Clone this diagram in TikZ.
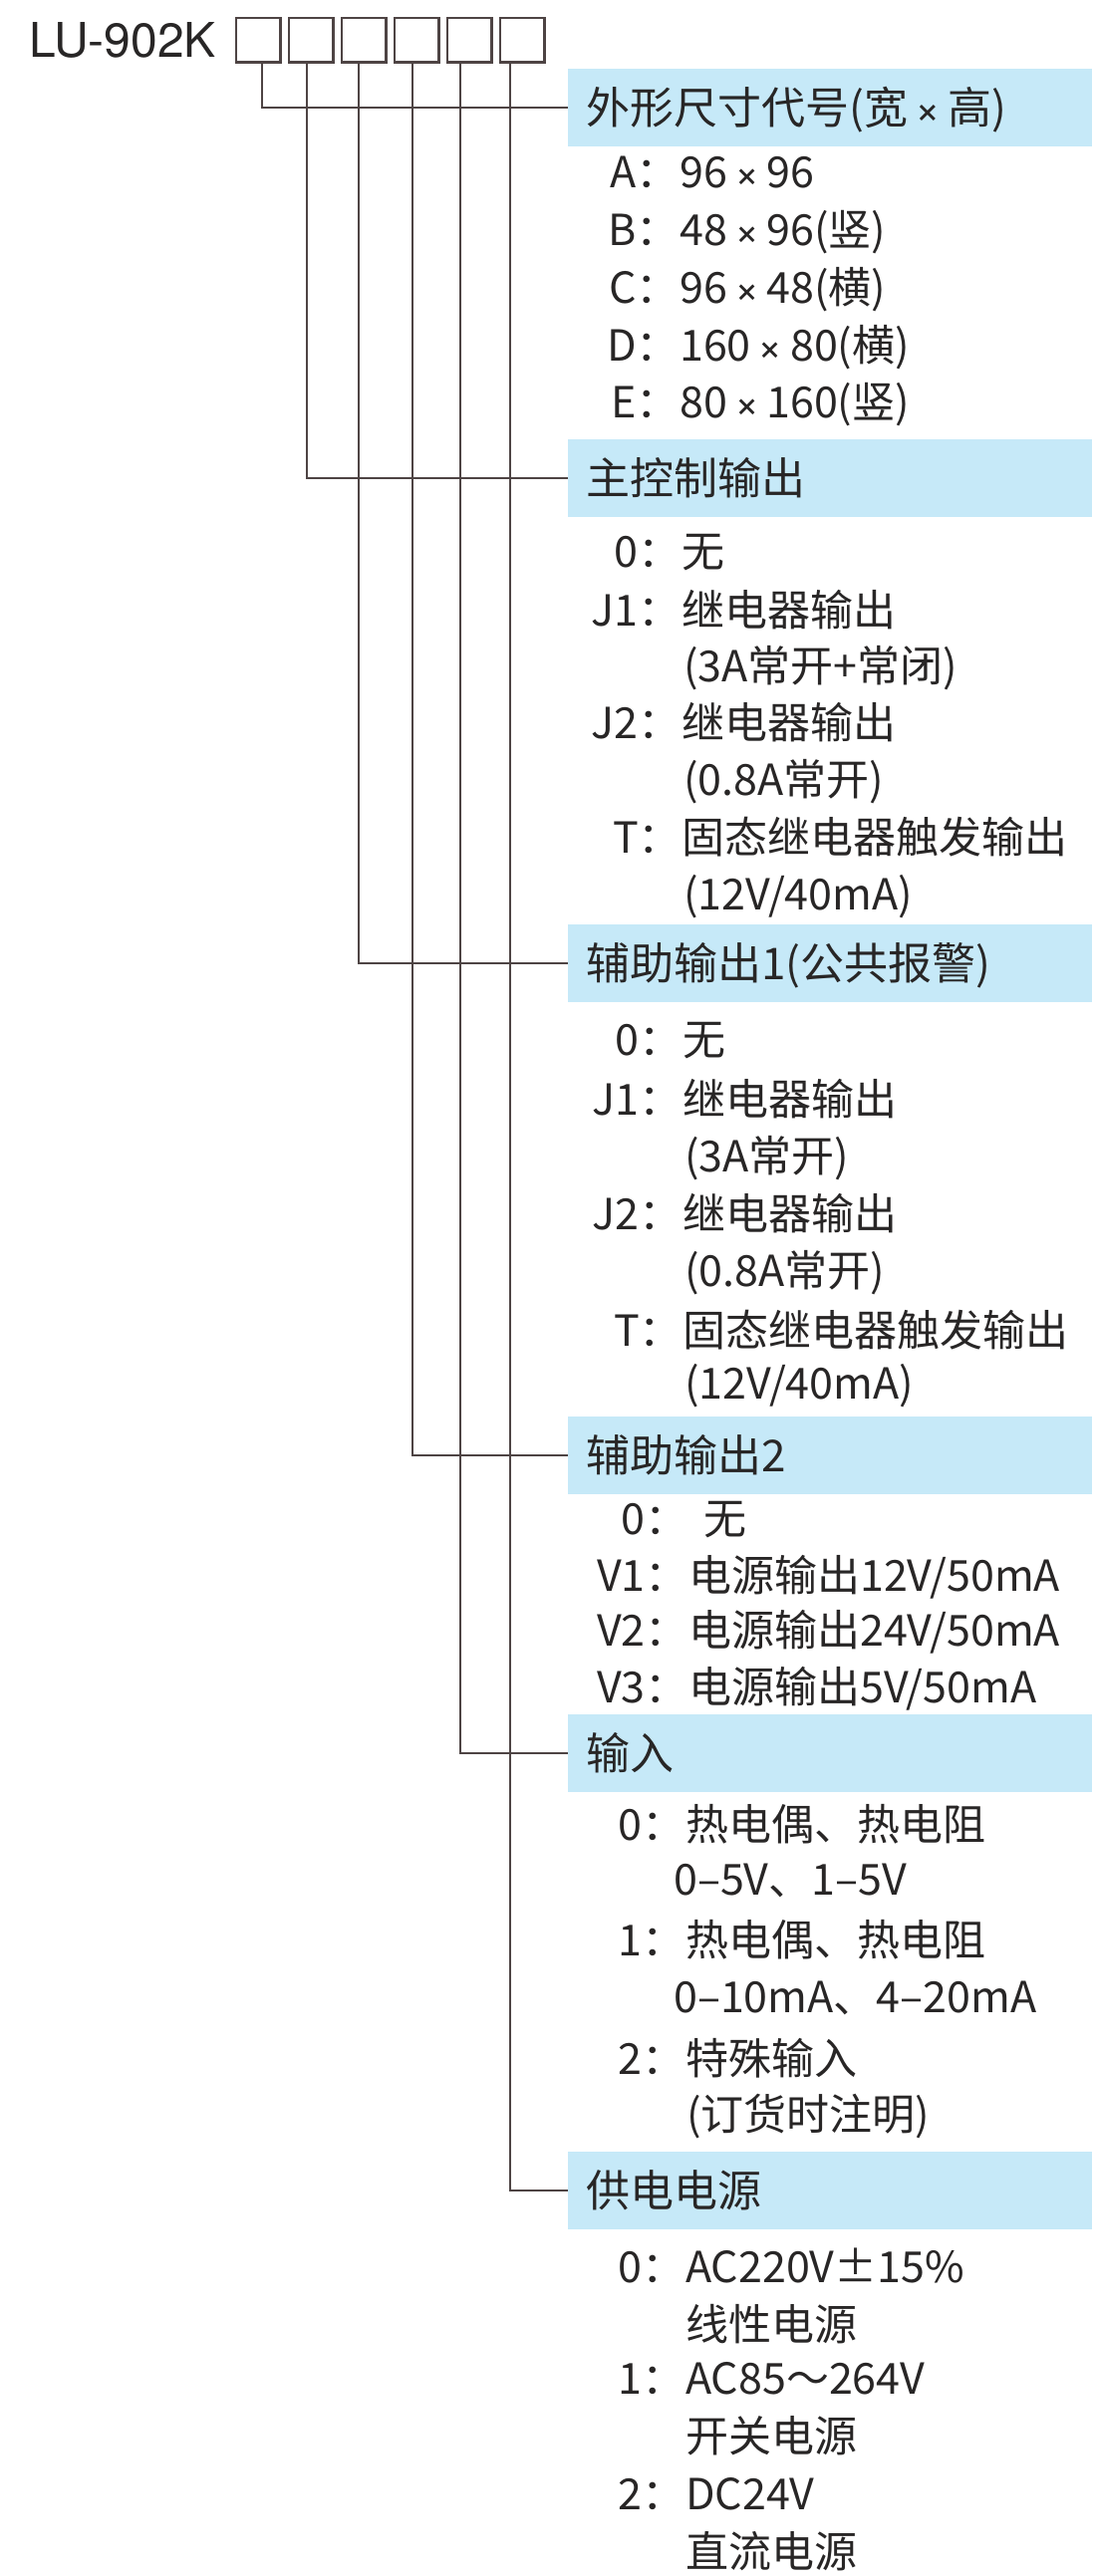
\documentclass[tikz,border=0pt]{standalone}
\usepackage{fontspec}
\setmainfont{Noto Sans CJK SC}
\newfontfamily\headfont{TeX Gyre Heros}
\usetikzlibrary{positioning}
\definecolor{bandblue}{RGB}{198,233,248}
\definecolor{wiregray}{RGB}{78,68,68}
\definecolor{inkgray}{RGB}{40,38,38}

\begin{document}
\begin{tikzpicture}
		[x=1pt,y=-1pt,
		cell/.style={draw=wiregray,line width=2.6pt,minimum width=44.4pt,minimum height=44.4pt,inner sep=0pt},
		wire/.style={draw=wiregray,line width=2pt},
		band/.style={fill=bandblue,anchor=west,minimum height=78pt,text width=490pt,inner xsep=18pt,inner ysep=0pt,align=left,text=inkgray,font=\fontsize{44pt}{50pt}\selectfont,text height=38.7pt,text depth=5.3pt},
		key/.style={anchor=east,inner sep=0pt,text=inkgray,font=\fontsize{43pt}{50pt}\selectfont,text height=37.8pt,text depth=5.2pt},
		val/.style={key,anchor=west}]
		\useasboundingbox (0,0) rectangle (1096,2586);

		% draw the model code and its six boxes
		\node [anchor=base west,inner sep=0pt,text=inkgray,font=\headfont\fontsize{48pt}{56pt}\selectfont] (model) at (29,57) {LU-902K};
		\node [cell] (b1) at (259,40) {};
		\node [cell,right=6pt of b1] (b2) {};
		\node [cell,right=6pt of b2] (b3) {};
		\node [cell,right=6pt of b3] (b4) {};
		\node [cell,right=6pt of b4] (b5) {};
		\node [cell,right=6pt of b5] (b6) {};

		% draw the blue title bands
		\node [band] (t1) at (570,108) {外形尺寸代号(宽{\headfont\,×\,}高)};
		\node [band] (t2) at (570,480) {主控制输出};
		\node [band] (t3) at (570,967) {辅助输出1(公共报警)};
		\node [band] (t4) at (570,1461) {辅助输出2};
		\node [band] (t5) at (570,1760) {输入};
		\node [band] (t6) at (570,2199) {供电电源};

		% draw the lines from the boxes to the bands
		\draw [wire] ([xshift=4pt]b1.south) |- (t1.west);
		\draw [wire] ([xshift=-4pt]b2.south) |- (t2.west);
		\draw [wire] ([xshift=-5pt]b3.south) |- (t3.west);
		\draw [wire] ([xshift=-4pt]b4.south) |- (t4.west);
		\draw [wire] ([xshift=-9pt]b5.south) |- (t5.west);
		\draw [wire] ([xshift=-12pt]b6.south) |- (t6.west);

		% size codes
		\node [key] (k1a) at (682,172) {A：}; \node [val,right=0pt of k1a] (v1a) {96{\headfont\,×\,}96};
		\node [key] (k1b) at (682,230) {B：}; \node [val,right=0pt of k1b] (v1b) {48{\headfont\,×\,}96(竖)};
		\node [key] (k1c) at (682,288) {C：}; \node [val,right=0pt of k1c] (v1c) {96{\headfont\,×\,}48(横)};
		\node [key] (k1d) at (682,346) {D：}; \node [val,right=0pt of k1d] (v1d) {160{\headfont\,×\,}80(横)};
		\node [key] (k1e) at (682,403) {E：}; \node [val,right=0pt of k1e] (v1e) {80{\headfont\,×\,}160(竖)};

		% main control output
		\node [key] (k2a) at (684,553) {0：}; \node [val,right=0pt of k2a] (v2a) {无};
		\node [key] (k2b) at (684,612) {J1：}; \node [val,right=0pt of k2b] (v2b) {继电器输出};
		\node [val] (v2c) at (686,668) {(3A常开+常闭)};
		\node [key] (k2d) at (684,725) {J2：}; \node [val,right=0pt of k2d] (v2d) {继电器输出};
		\node [val] (v2e) at (686,782) {(0.8A常开)};
		\node [key] (k2f) at (684,840) {T：}; \node [val,right=0pt of k2f] (v2f) {固态继电器触发输出};
		\node [val] (v2g) at (686,897) {(12V/40mA)};

		% auxiliary output 1
		\node [key] (k3a) at (685,1043) {0：}; \node [val,right=0pt of k3a] (v3a) {无};
		\node [key] (k3b) at (685,1103) {J1：}; \node [val,right=0pt of k3b] (v3b) {继电器输出};
		\node [val] (v3c) at (687,1160) {(3A常开)};
		\node [key] (k3d) at (685,1218) {J2：}; \node [val,right=0pt of k3d] (v3d) {继电器输出};
		\node [val] (v3e) at (687,1275) {(0.8A常开)};
		\node [key] (k3f) at (685,1335) {T：}; \node [val,right=0pt of k3f] (v3f) {固态继电器触发输出};
		\node [val] (v3g) at (687,1388) {(12V/40mA)};

		% auxiliary output 2
		\node [key] (k4a) at (691,1524) {0：}; \node [val,right=15pt of k4a] (v4a) {无};
		\node [key] (k4b) at (691,1581) {V1：}; \node [val,right=0pt of k4b] (v4b) {电源输出12V/50mA};
		\node [key] (k4c) at (691,1636) {V2：}; \node [val,right=0pt of k4c] (v4c) {电源输出24V/50mA};
		\node [key] (k4d) at (691,1693) {V3：}; \node [val,right=0pt of k4d] (v4d) {电源输出5V/50mA};

		% input
		\node [key] (k5a) at (688,1831) {0：}; \node [val,right=0pt of k5a] (v5a) {热电偶、热电阻};
		\node [val] (v5b) at (676,1886) {0–5V、1–5V};
		\node [key] (k5c) at (688,1947) {1：}; \node [val,right=0pt of k5c] (v5c) {热电偶、热电阻};
		\node [val] (v5d) at (676,2004) {0–10mA、4–20mA};
		\node [key] (k5e) at (688,2066) {2：}; \node [val,right=0pt of k5e] (v5e) {特殊输入};
		\node [val] (v5f) at (689,2122) {(订货时注明)};

		% power supply
		\node [key] (k6a) at (688,2275) {0：}; \node [val,right=0pt of k6a] (v6a) {AC220V±15\%};
		\node [val] (v6b) at (688,2333) {线性电源};
		\node [key] (k6c) at (688,2387) {1：}; \node [val,right=0pt of k6c] (v6c) {AC85～264V};
		\node [val] (v6d) at (688,2445) {开关电源};
		\node [key] (k6e) at (688,2503) {2：}; \node [val,right=0pt of k6e] (v6e) {DC24V};
		\node [val] (v6f) at (688,2561) {直流电源};
	\end{tikzpicture}
\end{document}
